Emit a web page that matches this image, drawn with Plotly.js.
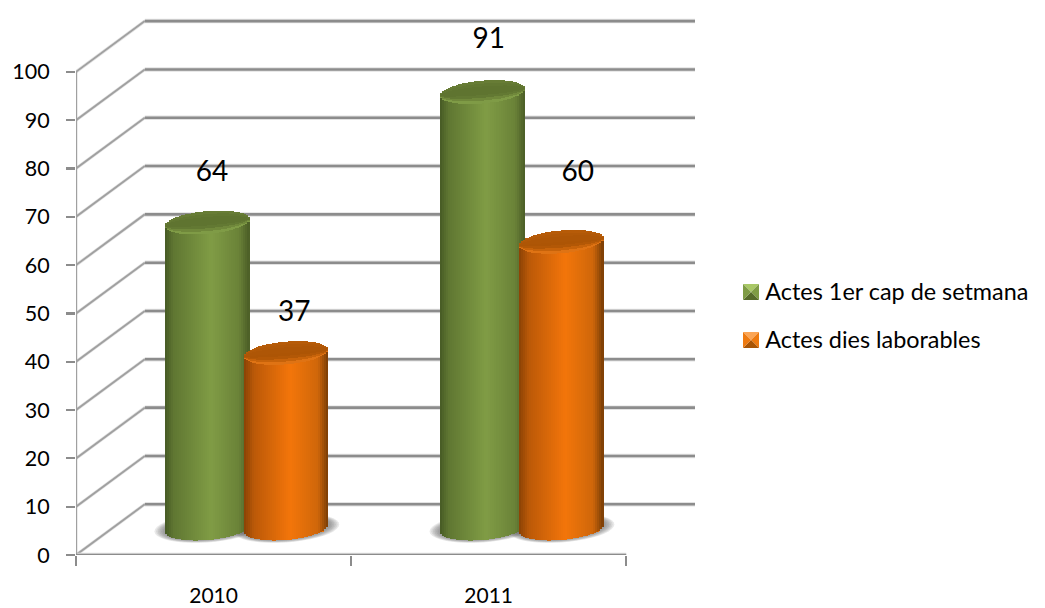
<!DOCTYPE html>
<html><head><meta charset="utf-8">
<script src="https://cdn.plot.ly/plotly-3.0.1.min.js"></script>
<style>html,body{margin:0;padding:0;background:#fff}</style></head>
<body><div id="chart" style="width:1045px;height:608px"></div>
<script>
const categories = ['2010', '2011'];
const seriesNames = ['Actes 1er cap de setmana', 'Actes dies laborables'];
const weekendValues = [64, 91];
const weekdayValues = [37, 60];
const yTicks = [0,10,20,30,40,50,60,70,80,90,100];

// pseudo-3D appearance (axis units)
const wallDx = 0.25, wallDy = 10.5, xEnd = 2, depthBase = 4.8, floorBase = 5.6;
const cylW = 0.306, capSemi = 2.35, floorSemi = 2.5, tilt = 0.72;
const seriesOffset = [0.478, 0.764];
const labelLift = [[14.9, 15.4], [12.9, 18.9]];
const labelShift = [[0.016, 0.022], [0.029, 0.06]];
const FONT = 'Lato, Carlito, sans-serif';

const sideStops = [
  [[0,'#465a24'],[0.1,'#5f7632'],[0.55,'#809c45'],[0.88,'#6a8238'],[1,'#4b5d26']],
  [[0,'#8a4205'],[0.12,'#bb5908'],[0.55,'#f3750a'],[0.88,'#cf670a'],[1,'#7a3d06']]
];
const capStops = [
  [[0,'#8dac52'],[0.08,'#7b9642'],[0.35,'#5f7430'],[0.75,'#5f7430'],[1,'#6a7f36']],
  [[0,'#f68a28'],[0.08,'#d96c0e'],[0.35,'#ad5505'],[0.75,'#ae5606'],[1,'#b85c08']]
];
function hex(c){return [1,3,5].map(i=>parseInt(c.substr(i,2),16));}
function ramp(stops,t){
  for(let i=1;i<stops.length;i++){
    if(t<=stops[i][0]){
      const a=stops[i-1],b=stops[i],f=(t-a[0])/(b[0]-a[0]);
      const A=hex(a[1]),B=hex(b[1]);
      return 'rgb('+A.map((v,k)=>Math.round(v+(B[k]-v)*f)).join(',')+')';
    }
  }
  return stops[stops.length-1][1];
}
function cylinderCells(cx, value, s){
  const N=42, rows=8, w=cylW/N, xs=[],bases=[],hs=[],cols=[];
  for(let i=0;i<N;i++){
    const t=(i+0.5)/N,u=2*t-1,root=Math.sqrt(1-u*u),x=cx-cylW/2+t*cylW;
    const low=floorBase+tilt*u-floorSemi*root;
    const top=value+depthBase+tilt*u-capSemi*root, up=value+depthBase+tilt*u+capSemi*root;
    xs.push(x);bases.push(low);hs.push(top-low);cols.push(ramp(sideStops[s],t));
    for(let j=0;j<rows;j++){
      xs.push(x);bases.push(top+(up-top)*j/rows);hs.push((up-top)/rows+0.02);
      cols.push(ramp(capStops[s],(j+0.5)/rows));
    }
  }
  return {type:'bar',x:xs,y:hs,base:bases,width:xs.map(()=>w*1.15),showlegend:false,hoverinfo:'skip',
          marker:{color:cols,line:{width:0}}};
}

const valuesBySeries=[weekendValues,weekdayValues];
const baseColors=['#76923c','#f2740a'];
const traces=[];
valuesBySeries.forEach((vals,s)=>{
  traces.push({type:'bar',name:seriesNames[s],showlegend:false,
    x:categories.map((c,i)=>i+seriesOffset[s]),y:vals,base:vals.map(()=>depthBase),width:cylW*0.9,
    marker:{color:baseColors[s],line:{width:0}},hoverinfo:'y'});
  vals.forEach((v,i)=>traces.push(cylinderCells(i+seriesOffset[s],v,s)));
});
// legend entries (swatches are bevelled shapes below)
seriesNames.forEach((n,s)=>traces.push({type:'bar',name:n,legendgroup:'g'+s,x:[0],y:[0],
  marker:{color:'rgba(0,0,0,0)',line:{width:0}},hoverinfo:'skip'}));
valuesBySeries.forEach((vals,s)=>{
  traces.push({type:'scatter',mode:'text',showlegend:false,hoverinfo:'skip',
    x:vals.map((v,i)=>i+seriesOffset[s]+labelShift[s][i]),
    y:vals.map((v,i)=>v+labelLift[s][i]),
    text:vals.map(String),textposition:'middle center',
    textfont:{family:FONT,size:28,color:'#000'}});
});

const shapes=[];
function line(x0,y0,x1,y1,color,width){
  shapes.push({type:'line',xref:'x',yref:'y',x0,y0,x1,y1,layer:'below',line:{color,width}});
}
yTicks.forEach(v=>{
  line(wallDx,v+wallDy,xEnd+wallDx,v+wallDy,'#e2e2e2',4.5);
  line(0,v,wallDx,v+wallDy,'#e2e2e2',3.2);
});
yTicks.forEach(v=>{
  line(wallDx,v+wallDy,xEnd+wallDx,v+wallDy,'#8c8c8c',2.6);
  line(0,v,wallDx,v+wallDy,'#a0a0a0',1.9);
});
line(0,0,xEnd,0,'#e0e0e0',4.5);
line(0,0,0,100,'#a0a0a0',2.4);
line(0,0,xEnd,0,'#8c8c8c',2.6);
// soft floor shadows
valuesBySeries.forEach((vals,s)=>vals.forEach((v,i)=>{
  const cx=i+seriesOffset[s];
  [1.26,1.22,1.18,1.14,1.1,1.06].forEach(k=>{
    const rx=cylW/2*k, ry=floorSemi*k*0.95, yc=floorBase;
    const pts=[];
    for(let a=0;a<40;a++){
      const th=a/40*2*Math.PI;
      pts.push((a?'L':'M')+(cx+rx*Math.cos(th)).toFixed(4)+','+(yc+ry*Math.sin(th)+tilt*Math.cos(th)).toFixed(3));
    }
    shapes.push({type:'path',xref:'x',yref:'y',path:pts.join(' ')+' Z',layer:'below',
      fillcolor:'rgba(100,100,100,0.14)',line:{width:0}});
  });
}));
// bevelled legend swatches (paper coordinates from pixel boxes)
const W=619,H=545,px=x=>(x-76)/W,py=y=>(555-y)/H;
const swatchFaces=[['#a9c866','#7f9c45','#566b2a','#7f9c45'],['#fba555','#ee7a10','#a95505','#ee7a10']];
[[743,284],[743,332]].forEach((o,s)=>{
  const L=px(o[0]),R=px(o[0]+16),T=py(o[1]),B=py(o[1]+16),CX=(L+R)/2,CY=(T+B)/2;
  [[L,T,R,T],[R,T,R,B],[R,B,L,B],[L,B,L,T]].forEach((e,f)=>{
    shapes.push({type:'path',xref:'paper',yref:'paper',layer:'above',line:{width:0},fillcolor:swatchFaces[s][f],
      path:`M${e[0]},${e[1]} L${e[2]},${e[3]} L${CX},${CY} Z`});
  });
});

const layout={
  width:1045,height:608,margin:{l:76,r:350,t:10,b:53,pad:0},
  paper_bgcolor:'#fff',plot_bgcolor:'#fff',barmode:'overlay',bargap:0,
  font:{family:FONT,color:'#000'},
  xaxis:{range:[0,xEnd+wallDx],tickmode:'array',tickvals:categories.map((c,i)=>i+0.5),ticktext:categories,
    ticks:'',showgrid:false,zeroline:false,showline:false,ticklabelstandoff:26,
    tickfont:{family:FONT,size:21,color:'#000'},
    minor:{tickmode:'array',tickvals:categories.map((c,i)=>i).concat([xEnd]),ticks:'outside',ticklen:10,tickwidth:2.2,tickcolor:'#8c8c8c',showgrid:false}},
  yaxis:{range:[0,112.8],tickmode:'array',tickvals:yTicks,ticktext:yTicks.map(String),
    ticks:'outside',ticklen:9,tickwidth:2.2,tickcolor:'#8c8c8c',showgrid:false,zeroline:false,showline:false,ticklabelstandoff:12,
    tickfont:{family:FONT,size:21.5,color:'#000'}},
  shapes,
  showlegend:true,
  legend:{x:1.049,y:0.44,xanchor:'left',yanchor:'middle',font:{family:FONT,size:23.4,color:'#000'},
    tracegroupgap:15,bgcolor:'rgba(0,0,0,0)',itemwidth:30,traceorder:'grouped'}
};
Plotly.newPlot('chart',traces,layout,{displayModeBar:false,staticPlot:true});
</script></body></html>
